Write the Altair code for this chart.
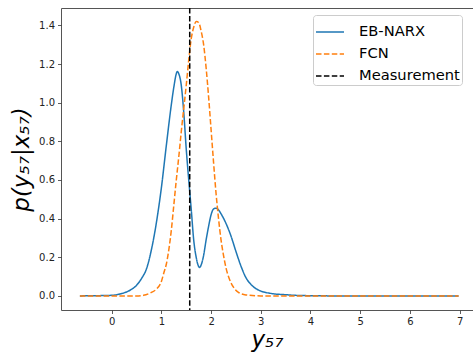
import altair as alt
import pandas as pd

# EB-NARX density
eb_x = [-0.64, 0.0, 0.2, 0.38, 0.5, 0.6, 0.7, 0.8, 0.9, 1.0, 1.1, 1.2, 1.25, 1.3, 1.32,
        1.35, 1.4, 1.45, 1.5, 1.55, 1.6, 1.65, 1.7, 1.75, 1.77, 1.8, 1.85, 1.9, 1.95,
        2.0, 2.05, 2.1, 2.15, 2.2, 2.3, 2.4, 2.5, 2.6, 2.7, 2.8, 2.9, 3.0, 3.2, 3.5,
        3.8, 4.5, 6.98]
eb_y = [0.0, 0.003, 0.012, 0.031, 0.055, 0.09, 0.14, 0.24, 0.38, 0.56, 0.78, 0.99, 1.08,
        1.15, 1.162, 1.15, 1.09, 0.95, 0.76, 0.60, 0.45, 0.29, 0.20, 0.152, 0.147, 0.16,
        0.21, 0.29, 0.36, 0.42, 0.45, 0.454, 0.445, 0.425, 0.375, 0.31, 0.23, 0.155,
        0.095, 0.06, 0.038, 0.025, 0.013, 0.006, 0.002, 0.0, 0.0]

# FCN density
fcn_x = [-0.64, 0.5, 0.64, 0.8, 0.9, 1.0, 1.05, 1.1, 1.15, 1.2, 1.25, 1.3, 1.35, 1.4,
         1.45, 1.5, 1.55, 1.6, 1.65, 1.7, 1.75, 1.8, 1.85, 1.9, 1.95, 2.0, 2.05, 2.1,
         2.15, 2.2, 2.25, 2.3, 2.35, 2.45, 2.55, 2.7, 3.0, 6.98]
fcn_y = [0.0, 0.0, 0.003, 0.018, 0.035, 0.075, 0.12, 0.165, 0.24, 0.34, 0.47, 0.60, 0.72,
         0.85, 0.97, 1.09, 1.22, 1.33, 1.39, 1.42, 1.415, 1.37, 1.30, 1.18, 1.03, 0.86,
         0.69, 0.53, 0.40, 0.29, 0.21, 0.145, 0.10, 0.045, 0.018, 0.005, 0.0, 0.0]

measurement = [1.57]

series = ["EB-NARX", "FCN", "Measurement"]
colors = ["#1f77b4", "#ff7f0e", "#000000"]
dashes = [[1, 0], [5.5, 2.4], [5.5, 2.4]]

df = pd.concat([
    pd.DataFrame({"x": eb_x, "y": eb_y, "series": "EB-NARX"}),
    pd.DataFrame({"x": fcn_x, "y": fcn_y, "series": "FCN"}),
])
df_m = pd.DataFrame({"x": measurement, "series": ["Measurement"]})

xscale = alt.Scale(domain=[-1.02, 7.27], nice=False, zero=False)
yscale = alt.Scale(domain=[-0.073, 1.49], nice=False, zero=False)
color = alt.Color("series:N", scale=alt.Scale(domain=series, range=colors),
                  legend=alt.Legend(title=None, orient="none", legendX=252, legendY=7))
dash = alt.StrokeDash("series:N", scale=alt.Scale(domain=series, range=dashes),
                      legend=alt.Legend(title=None, orient="none", legendX=252, legendY=7))

xaxis = alt.Axis(values=list(range(0, 8)), format="d", title="y₅₇", grid=False)
yaxis = alt.Axis(values=[0, 0.2, 0.4, 0.6, 0.8, 1.0, 1.2, 1.4], format=".1f",
                 title="p(y₅₇|x₅₇)", grid=False)

lines = alt.Chart(df).mark_line(strokeWidth=1.5, clip=True, interpolate="monotone").encode(
    x=alt.X("x:Q", scale=xscale, axis=xaxis),
    y=alt.Y("y:Q", scale=yscale, axis=yaxis),
    color=color,
    strokeDash=dash,
    detail="series:N",
)

rule = alt.Chart(df_m).mark_rule(strokeWidth=1.5).encode(
    x=alt.X("x:Q", scale=xscale),
    color=color,
    strokeDash=dash,
)

chart = alt.layer(lines, rule).properties(
    width=412, height=302,
    autosize=alt.AutoSizeParams(type="none"),
    padding={"left": 61, "top": 8, "right": 0, "bottom": 43},
).configure_view(
    stroke="#555555", strokeWidth=1
).configure_axis(
    domain=False, tickColor="#333333", tickSize=3.5, tickWidth=0.8,
    labelFont="DejaVu Sans", labelFontSize=10, labelColor="#222222", labelPadding=3,
    titleFont="DejaVu Sans", titleFontSize=23, titleFontWeight="normal",
    titleFontStyle="italic", titleColor="#000000",
).configure_axisY(
    titlePadding=5
).configure_axisX(
    titlePadding=2
).configure_legend(
    symbolType="stroke", symbolStrokeWidth=1.5, symbolSize=784,
    labelFont="DejaVu Sans", labelFontSize=14.7, labelColor="#000000",
    labelOffset=14, strokeColor="#cccccc", fillColor="white", cornerRadius=3,
    padding=2, rowPadding=0,
)

chart.save("out.html", embed_options={"renderer": "svg", "actions": False})
